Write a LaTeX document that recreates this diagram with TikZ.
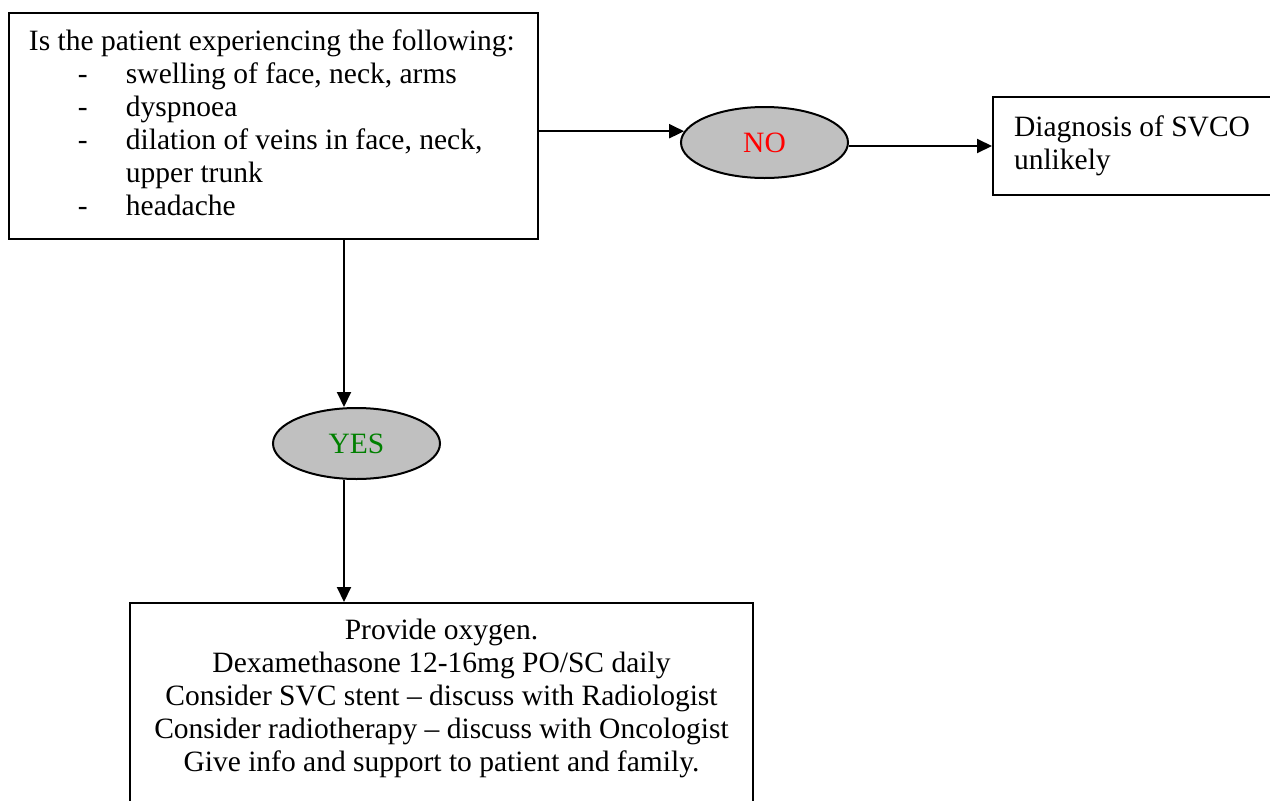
\documentclass[tikz,border=0pt]{standalone}
\usepackage{fontspec}
\setmainfont{Liberation Serif}
\usetikzlibrary{shapes.geometric,arrows.meta}

\definecolor{decisiongray}{HTML}{C0C0C0}
\definecolor{yesgreen}{HTML}{008000}
\definecolor{nored}{HTML}{FF0000}

\newcommand{\flowfont}{\fontsize{29.5}{33}\selectfont}

\tikzset{
  box/.style={draw, rectangle, inner sep=0pt, font=\flowfont},
  decision/.style={draw, ellipse, fill=decisiongray, inner sep=0pt,
    minimum width=167pt, minimum height=71pt, font=\flowfont},
  arr/.style={-{Triangle[length=15pt,width=14pt]}},
}

\begin{document}
\begin{tikzpicture}[x=1pt, y=-1pt, line width=2pt]
\useasboundingbox (0,0) rectangle (1270,801);
\clip (0,0) rectangle (1270,801);

% question box
\node[box, anchor=north west, minimum width=529pt, minimum height=226pt] (q) at (8,12)
  {\begin{tabular}{@{\hspace{20pt}}p{509pt}@{}}
   Is the patient experiencing the following:\\
   \hspace*{49pt}\makebox[48pt][l]{-}swelling of face, neck, arms\\
   \hspace*{49pt}\makebox[48pt][l]{-}dyspnoea\\
   \hspace*{49pt}\makebox[48pt][l]{-}dilation of veins in face, neck,\\
   \hspace*{97pt}upper trunk\\
   \hspace*{49pt}\makebox[48pt][l]{-}headache
   \end{tabular}};

% decisions
\node[decision] (no) at (764.5,142.5) {\textcolor{nored}{NO}};
\node[decision] (yes) at (356.5,443.5) {\textcolor{yesgreen}{YES}};

% outcome for NO
\node[box, anchor=north west, minimum width=320pt, minimum height=98pt] (dx) at (992,96)
  {\begin{tabular}{@{\hspace{21pt}}p{299pt}@{}}
   Diagnosis of SVCO\\
   unlikely
   \end{tabular}};

% actions for YES
\node[box, anchor=north west, minimum width=623pt, inner ysep=13pt, text depth=300pt] (act) at (129,602)
  {\begin{tabular}[t]{@{}c@{}}
   Provide oxygen.\\
   Dexamethasone 12-16mg PO/SC daily\\
   Consider SVC stent – discuss with Radiologist\\
   Consider radiotherapy – discuss with Oncologist\\
   Give info and support to patient and family.
   \end{tabular}};

% vertical trunk of the YES branch
\coordinate (trunk) at (344,0);

% connectors
\draw[arr] (q.east |- no.172.5) -- (no.172.5);
\draw[arr] (no.east |- dx.west) -- (dx.west);
\draw[arr] (q.south -| trunk) -- (yes.north -| trunk);
\draw[arr] (yes.south -| trunk) -- (act.north -| trunk);
\end{tikzpicture}
\end{document}
